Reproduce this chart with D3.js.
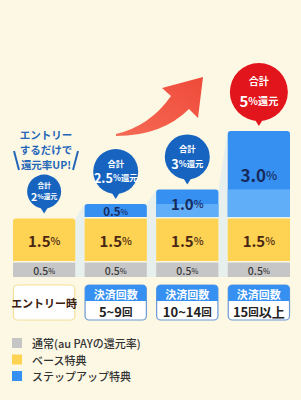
<!DOCTYPE html>
<html>
<head>
<meta charset="utf-8">
<script src="https://cdn.jsdelivr.net/npm/d3@7"></script>
<style>
  body { margin: 0; background: #fcf8e4; }
  svg { display: block; font-family: "Noto Sans CJK JP", "Noto Sans", sans-serif; }
</style>
</head>
<body>
<div id="chart"></div>
<script>
// data
const categories = ["エントリー時", "5~9回", "10~14回", "15回以上"];
const headers = ["", "決済回数", "決済回数", "決済回数"];
const normalRate = [0.5, 0.5, 0.5, 0.5];
const baseRate = [1.5, 1.5, 1.5, 1.5];
const stepUpRate = [0, 0.5, 1.0, 3.0];
const totalLabels = ["2", "2.5", "3", "5"];
const headline = ["エントリー", "するだけで", "還元率UP!"];
const legendLabels = ["通常(au PAYの還元率)", "ベース特典", "ステップアップ特典"];

// styling
const width = 301, height = 400;
const colors = { normal: "#c6c6c6", base: "#fed354", step: "#3590f2", stepLight: "#61aef8" };
const bubbleR = [17, 22.5, 22.5, 29];
const gap = 1.5;

const svg = d3.select("#chart").append("svg")
  .attr("width", width).attr("height", height);

svg.append("rect").attr("width", width).attr("height", height).attr("fill", "#fcf8e4");

const table = categories.map((c, i) => ({
  cat: c, normal: normalRate[i], base: baseRate[i], step: stepUpRate[i]
}));
const series = d3.stack().keys(["normal", "base", "step"])(table);

const x = d3.scaleBand().domain(categories).range([13, 290]).paddingInner(0.13);
const y = d3.scaleLinear().domain([0, 5]).range([277, 131]);
const bw = x.bandwidth();

const total = (d) => d.normal + d.base + d.step;

// top-rounded rectangle
const topRound = (x0, y0, w, h, r) =>
  `M${x0},${y0 + h}V${y0 + r}Q${x0},${y0} ${x0 + r},${y0}H${x0 + w - r}Q${x0 + w},${y0} ${x0 + w},${y0 + r}V${y0 + h}Z`;

// shading between columns
for (let i = 0; i < table.length - 1; i++) {
  const a = table[i], b = table[i + 1];
  const xa = x(a.cat) + bw, xb = x(b.cat);
  svg.append("path")
    .attr("d", `M${xa},${y(total(a))}L${xb},${y(total(b))}L${xb},${y(0)}L${xa},${y(0)}Z`)
    .attr("fill", "#cfe6f6").attr("opacity", 0.45);
}

// arrow
const defs = svg.append("defs");
const grad = defs.append("linearGradient").attr("id", "arrowGrad")
  .attr("x1", "0%").attr("y1", "100%").attr("x2", "100%").attr("y2", "0%");
grad.append("stop").attr("offset", "0%").attr("stop-color", "#f56b55");
grad.append("stop").attr("offset", "100%").attr("stop-color", "#ef4a3a");
svg.append("path")
  .attr("d", "M116,134 Q150,126 171,96 L162,88 L203,77 L198,118 L189,109 Q162,136 116,136 Z")
  .attr("fill", "url(#arrowGrad)");

// bars
series.forEach((s) => {
  s.forEach((seg, i) => {
    const v = seg[1] - seg[0];
    if (v <= 0) return;
    const d = seg.data;
    const x0 = x(d.cat);
    const yTop = y(seg[1]);
    const h = y(seg[0]) - yTop - (s.key === "normal" ? 0 : gap);
    const isTop = seg[1] === total(d);
    svg.append("path")
      .attr("d", isTop ? topRound(x0, yTop, bw, h, 3) : `M${x0},${yTop}h${bw}v${h}h${-bw}Z`)
      .attr("fill", colors[s.key]);
    if (s.key === "step" && i > 0 && stepUpRate[i - 1] > 0) {
      const yl = y(seg[0] + stepUpRate[i - 1]);
      svg.append("rect")
        .attr("x", x0).attr("y", yl).attr("width", bw)
        .attr("height", y(seg[0]) - yl - gap)
        .attr("fill", colors.stepLight);
    }
    // value label
    const cy = (yTop + yTop + h) / 2;
    const big = s.key === "normal" ? 10.5 : (s.key === "base" ? 15 : (v >= 3 ? 17 : (v >= 1 ? 15 : 11.5)));
    const fill = s.key === "normal" ? "#3a3a3a" : (s.key === "base" ? "#4a2712" : "#172a5c");
    const t = svg.append("text")
      .attr("x", x0 + bw / 2).attr("y", cy)
      .attr("text-anchor", "middle").attr("dominant-baseline", "central")
      .attr("fill", fill).attr("font-weight", s.key === "normal" ? 500 : 700);
    t.append("tspan").attr("font-size", big).text(v.toFixed(1));
    t.append("tspan").attr("font-size", big * 0.7).attr("font-weight", 500).text("%");
  });
});

// bubbles
table.forEach((d, i) => {
  const cx = x(d.cat) + bw / 2;
  const tip = y(total(d)) - 5;
  const r = bubbleR[i];
  const cy = tip - r - 5;
  const col = i === table.length - 1 ? "#e2151c" : "#1664c0";
  const g = svg.append("g");
  g.append("path")
    .attr("d", `M${cx - 5},${cy + r - 3}L${cx},${tip}L${cx + 5},${cy + r - 3}Z`)
    .attr("fill", col);
  g.append("circle").attr("cx", cx).attr("cy", cy).attr("r", r).attr("fill", col);
  const num = 4.5 + r * 0.36;
  const small = 2 + r * 0.28;
  g.append("text")
    .attr("x", cx).attr("y", cy - r * 0.4)
    .attr("text-anchor", "middle").attr("dominant-baseline", "central")
    .attr("fill", "#fff").attr("font-weight", 700).attr("font-size", small)
    .text("合計");
  const t = g.append("text")
    .attr("x", cx).attr("y", cy + r * 0.26)
    .attr("text-anchor", "middle").attr("dominant-baseline", "central")
    .attr("fill", "#fff").attr("font-weight", 700);
  t.append("tspan").attr("font-size", num).text(totalLabels[i]);
  t.append("tspan").attr("font-size", small).text("%還元");
});

// headline text
const head = svg.append("g")
  .attr("fill", "#2466b8").attr("font-weight", 700).attr("font-size", 10.5);
headline.forEach((line, i) => {
  head.append("text")
    .attr("x", 46).attr("y", 134 + i * 15.2)
    .attr("text-anchor", "middle").attr("dominant-baseline", "central")
    .text(line);
});
svg.append("line").attr("x1", 14).attr("y1", 151).attr("x2", 19).attr("y2", 170)
  .attr("stroke", "#2466b8").attr("stroke-width", 2);
svg.append("line").attr("x1", 78).attr("y1", 151).attr("x2", 73).attr("y2", 170)
  .attr("stroke", "#2466b8").attr("stroke-width", 2);

// category boxes
const boxTop = 285, boxH = 35;
table.forEach((d, i) => {
  const x0 = x(d.cat);
  const cx = x0 + bw / 2;
  if (!headers[i]) {
    svg.append("rect")
      .attr("x", x0 + 0.5).attr("y", boxTop).attr("width", bw - 1).attr("height", boxH)
      .attr("rx", 4).attr("fill", "#fff").attr("stroke", "#f3e09a").attr("stroke-width", 1.2);
    svg.append("text")
      .attr("x", cx).attr("y", boxTop + boxH / 2)
      .attr("text-anchor", "middle").attr("dominant-baseline", "central")
      .attr("font-size", 11).attr("font-weight", 700).attr("fill", "#3b2010")
      .text(d.cat);
    return;
  }
  svg.append("rect")
    .attr("x", x0 + 0.5).attr("y", boxTop).attr("width", bw - 1).attr("height", boxH)
    .attr("rx", 4).attr("fill", "#fff").attr("stroke", "#6b98d4").attr("stroke-width", 1.2);
  svg.append("path")
    .attr("d", topRound(x0 + 0.5, boxTop, bw - 1, 16, 4))
    .attr("fill", colors.step);
  svg.append("text")
    .attr("x", cx).attr("y", boxTop + 8.5)
    .attr("text-anchor", "middle").attr("dominant-baseline", "central")
    .attr("font-size", 11).attr("font-weight", 700).attr("fill", "#fff")
    .text(headers[i]);
  const t = svg.append("text")
    .attr("x", cx).attr("y", boxTop + 26)
    .attr("text-anchor", "middle").attr("dominant-baseline", "central")
    .attr("font-weight", 700).attr("fill", "#222");
  d.cat.split(/(回)/).filter((p) => p).forEach((p) => {
    t.append("tspan").attr("font-size", p === "回" ? 10.5 : 13).text(p);
  });
});

// legend
const legend = svg.append("g");
[colors.normal, colors.base, colors.step].forEach((c, i) => {
  legend.append("rect")
    .attr("x", 12).attr("y", 338 + i * 16.5).attr("width", 10).attr("height", 10)
    .attr("fill", c);
  legend.append("text")
    .attr("x", 32).attr("y", 343 + i * 16.5)
    .attr("dominant-baseline", "central")
    .attr("font-size", 11).attr("fill", "#333").attr("font-weight", 500)
    .text(legendLabels[i]);
});
</script>
</body>
</html>
